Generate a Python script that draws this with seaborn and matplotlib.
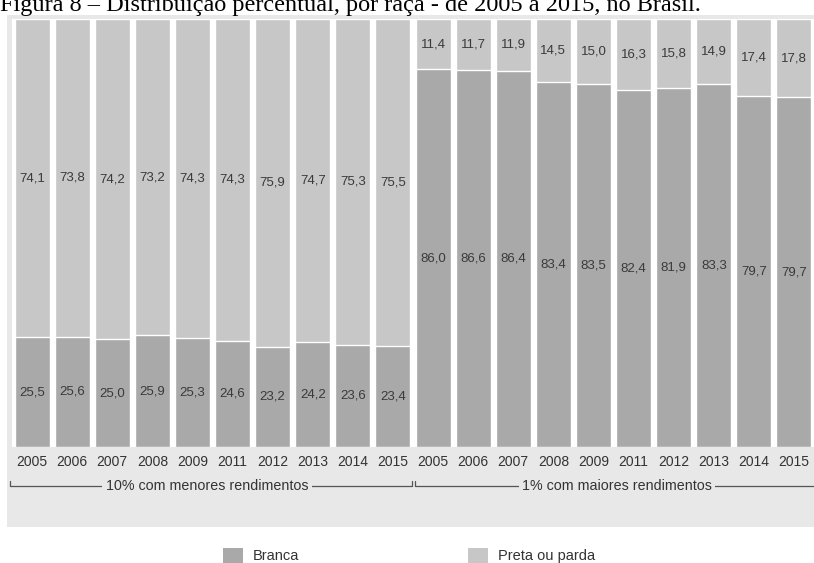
import numpy as np
import pandas as pd
import matplotlib
matplotlib.use("Agg")
import matplotlib.pyplot as plt
from matplotlib.patches import Rectangle
import matplotlib.transforms as mtransforms
import seaborn as sns

# Anos pesquisados (2010 ausente: ano do Censo)
anos = ["2005", "2006", "2007", "2008", "2009", "2011", "2012", "2013", "2014", "2015"]
grupos = ["10% com menores rendimentos", "1% com maiores rendimentos"]

# Percentuais por raça, 10% com menores rendimentos
branca_menores = [25.5, 25.6, 25.0, 25.9, 25.3, 24.6, 23.2, 24.2, 23.6, 23.4]
preta_menores = [74.1, 73.8, 74.2, 73.2, 74.3, 74.3, 75.9, 74.7, 75.3, 75.5]

# Percentuais por raça, 1% com maiores rendimentos
branca_maiores = [86.0, 86.6, 86.4, 83.4, 83.5, 82.4, 81.9, 83.3, 79.7, 79.7]
preta_maiores = [11.4, 11.7, 11.9, 14.5, 15.0, 16.3, 15.8, 14.9, 17.4, 17.8]

titulo = "Figura 8 \u2013 Distribuição percentual, por raça - de 2005 a 2015, no Brasil."
legenda = ["Branca", "Preta ou parda"]

COR_BRANCA = "#a9a9a9"
COR_PRETA = "#c7c7c7"
COR_PAINEL = "#e8e8e8"
COR_TEXTO = "#333333"

sns.set_style("white")
plt.rcParams["font.family"] = ["Liberation Sans", "DejaVu Sans"]

# Tabela longa: uma linha por barra, com partes normalizadas para somar 100
linhas = []
for g, (br, pr) in enumerate([(branca_menores, preta_menores), (branca_maiores, preta_maiores)]):
    for ano, b, p in zip(anos, br, pr):
        tot = b + p
        linhas.append({
            "chave": f"{g}-{ano}", "ano": ano, "grupo": grupos[g],
            "branca": b, "preta": p,
            "branca_n": b / tot * 100.0, "total_n": 100.0,
        })
df = pd.DataFrame(linhas)
ordem = list(df["chave"])

W, H = 814, 563
fig = plt.figure(figsize=(W / 100, H / 100), dpi=100)

# Painel cinza atrás do gráfico
fig.add_artist(Rectangle((7 / W, 1 - 527 / H), 1 - 7 / W, (527 - 15) / H,
                         transform=fig.transFigure, facecolor=COR_PAINEL,
                         edgecolor="none", zorder=0))

ax = fig.add_axes([12 / W, 1 - 447 / H, (W - 12) / W, (447 - 19) / H])
ax.set_facecolor("white")
ax.set_zorder(1)

sns.barplot(data=df, x="chave", y="total_n", order=ordem, color=COR_PRETA,
            saturation=1, width=0.875, errorbar=None, ax=ax)
sns.barplot(data=df, x="chave", y="branca_n", order=ordem, color=COR_BRANCA,
            saturation=1, width=0.875, errorbar=None, ax=ax)

ax.set_xlim(-0.5, len(ordem) - 0.5)
ax.set_ylim(0, 100)
ax.set_xlabel("")
ax.set_ylabel("")
ax.set_yticks([])
ax.set_xticks(range(len(ordem)))
ax.set_xticklabels(df["ano"], fontsize=10, color=COR_TEXTO)
ax.tick_params(axis="x", length=0, pad=6)
for s in ax.spines.values():
    s.set_visible(False)


def fmt(v):
    return f"{v:.1f}".replace(".", ",")


for i, r in df.iterrows():
    ax.text(i, r["branca_n"] / 2, fmt(r["branca"]), ha="center", va="center",
            fontsize=9.5, color="#3a3a3a")
    ax.text(i, r["branca_n"] + (100 - r["branca_n"]) / 2, fmt(r["preta"]),
            ha="center", va="center", fontsize=9.5, color="#3a3a3a")

# Chaves dos grupos abaixo dos anos
trans = mtransforms.blended_transform_factory(ax.transData, ax.transAxes)
yb = -0.091
th = 0.011
n = len(anos)
for g, (x0, x1, xc) in enumerate([(-0.55, n - 0.52, 4.36), (n - 0.45, 2 * n - 0.45, 14.59)]):
    ax.plot([x0, x0, x1, x1], [yb + th, yb, yb, yb + th], color="#555555",
            lw=0.9, transform=trans, clip_on=False)
    ax.text(xc, yb, grupos[g], transform=trans,
            ha="center", va="center", fontsize=10.3, color=COR_TEXTO,
            bbox=dict(facecolor=COR_PAINEL, edgecolor="none", pad=2.5))

# Legenda
for (x0, rot, cor) in [(223, legenda[0], COR_BRANCA), (468, legenda[1], COR_PRETA)]:
    fig.add_artist(Rectangle((x0 / W, 1 - 566 / H), 20 / W, 18 / H,
                             transform=fig.transFigure, facecolor=cor,
                             edgecolor="none"))
    fig.text((x0 + 30) / W, 1 - 556 / H, rot, ha="left", va="center",
             fontsize=10.5, color=COR_TEXTO)

# Título
fig.text(0.0, 1 - 11 / H, titulo, ha="left", va="baseline",
         fontsize=17.5, color="black", family=["Liberation Serif", "DejaVu Serif"])

fig.savefig("out.png", dpi=100, facecolor="white")
